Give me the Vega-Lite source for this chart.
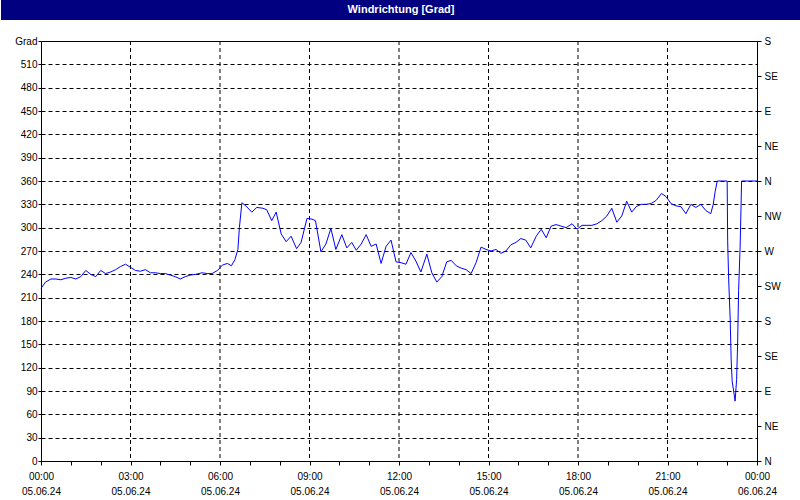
{
  "$schema": "https://vega.github.io/schema/vega-lite/v6.json",
  "padding": 0,
  "spacing": 15,
  "background": "white",
  "config": {
    "font": "Liberation Sans",
    "axis": {"labelFont": "Liberation Sans", "labelFontSize": 10, "labelColor": "black", "domainColor": "black", "tickColor": "black"}
  },
  "vconcat": [
    {
      "width": 716,
      "height": 20,
      "view": {"stroke": null},
      "data": {"values": [{"title": "Windrichtung [Grad]", "a": 0, "b": 1, "pos": 0.5}]},
      "encoding": {
        "x": {"field": "a", "type": "quantitative", "scale": {"domain": [0, 1], "range": [-40, 760]}, "axis": null}
      },
      "layer": [
        {
          "mark": {"type": "rect", "color": "#000080"},
          "encoding": {"x2": {"field": "b"}}
        },
        {
          "mark": {"type": "text", "color": "white", "fontWeight": "bold", "fontSize": 11, "font": "Liberation Sans", "align": "center", "baseline": "middle"},
          "encoding": {
            "text": {"field": "title"},
            "x": {"field": "pos", "type": "quantitative", "axis": null},
            "y": {"field": "pos", "type": "quantitative", "scale": {"domain": [0, 1]}, "axis": null}
          }
        }
      ]
    },
    {
      "width": 716,
      "height": 420,
      "view": {"stroke": "black", "strokeWidth": 1},
      "encoding": {
        "x": {
          "field": "t",
          "type": "temporal",
          "scale": {"domain": [{"year": 2024, "month": 6, "date": 5, "hours": 0}, {"year": 2024, "month": 6, "date": 6, "hours": 0}]},
          "axis": {
            "title": null,
            "values": [
              {"year": 2024, "month": 6, "date": 5, "hours": 0},
              {"year": 2024, "month": 6, "date": 5, "hours": 1},
              {"year": 2024, "month": 6, "date": 5, "hours": 2},
              {"year": 2024, "month": 6, "date": 5, "hours": 3},
              {"year": 2024, "month": 6, "date": 5, "hours": 4},
              {"year": 2024, "month": 6, "date": 5, "hours": 5},
              {"year": 2024, "month": 6, "date": 5, "hours": 6},
              {"year": 2024, "month": 6, "date": 5, "hours": 7},
              {"year": 2024, "month": 6, "date": 5, "hours": 8},
              {"year": 2024, "month": 6, "date": 5, "hours": 9},
              {"year": 2024, "month": 6, "date": 5, "hours": 10},
              {"year": 2024, "month": 6, "date": 5, "hours": 11},
              {"year": 2024, "month": 6, "date": 5, "hours": 12},
              {"year": 2024, "month": 6, "date": 5, "hours": 13},
              {"year": 2024, "month": 6, "date": 5, "hours": 14},
              {"year": 2024, "month": 6, "date": 5, "hours": 15},
              {"year": 2024, "month": 6, "date": 5, "hours": 16},
              {"year": 2024, "month": 6, "date": 5, "hours": 17},
              {"year": 2024, "month": 6, "date": 5, "hours": 18},
              {"year": 2024, "month": 6, "date": 5, "hours": 19},
              {"year": 2024, "month": 6, "date": 5, "hours": 20},
              {"year": 2024, "month": 6, "date": 5, "hours": 21},
              {"year": 2024, "month": 6, "date": 5, "hours": 22},
              {"year": 2024, "month": 6, "date": 5, "hours": 23},
              {"year": 2024, "month": 6, "date": 6, "hours": 0}
            ],
            "grid": false,
            "tickSize": 4,
            "labelPadding": 6,
            "labelLineHeight": 15,
            "labelOverlap": false,
            "labelFlush": false,
            "labelBound": false,
            "labelExpr": "hours(datum.value) % 3 == 0 ? [timeFormat(datum.value, '%H:%M'), timeFormat(datum.value, '%d.%m.%y')] : ''"
          }
        }
      },
      "layer": [
        {
          "data": {"values": [
            {"t": "2024-06-05T03:00:00"},
            {"t": "2024-06-05T06:00:00"},
            {"t": "2024-06-05T09:00:00"},
            {"t": "2024-06-05T12:00:00"},
            {"t": "2024-06-05T15:00:00"},
            {"t": "2024-06-05T18:00:00"},
            {"t": "2024-06-05T21:00:00"}
          ]},
          "mark": {"type": "rule", "color": "black", "strokeWidth": 1, "strokeDash": [4, 3]},
          "encoding": {}
        },
        {
          "data": {"values": [
            {"t": "2024-06-05T00:00:00", "v": 222},
            {"t": "2024-06-05T00:09:00", "v": 230},
            {"t": "2024-06-05T00:20:00", "v": 234},
            {"t": "2024-06-05T00:30:00", "v": 234},
            {"t": "2024-06-05T00:40:00", "v": 233},
            {"t": "2024-06-05T00:50:00", "v": 235},
            {"t": "2024-06-05T01:00:00", "v": 236},
            {"t": "2024-06-05T01:10:00", "v": 234},
            {"t": "2024-06-05T01:20:00", "v": 237},
            {"t": "2024-06-05T01:30:00", "v": 245},
            {"t": "2024-06-05T01:40:00", "v": 240},
            {"t": "2024-06-05T01:50:00", "v": 237},
            {"t": "2024-06-05T02:00:00", "v": 245},
            {"t": "2024-06-05T02:10:00", "v": 241},
            {"t": "2024-06-05T02:20:00", "v": 243},
            {"t": "2024-06-05T02:30:00", "v": 246},
            {"t": "2024-06-05T02:40:00", "v": 250},
            {"t": "2024-06-05T02:50:00", "v": 253},
            {"t": "2024-06-05T03:00:00", "v": 249},
            {"t": "2024-06-05T03:10:00", "v": 245},
            {"t": "2024-06-05T03:20:00", "v": 244},
            {"t": "2024-06-05T03:30:00", "v": 246},
            {"t": "2024-06-05T03:40:00", "v": 242},
            {"t": "2024-06-05T03:50:00", "v": 242},
            {"t": "2024-06-05T04:00:00", "v": 241},
            {"t": "2024-06-05T04:10:00", "v": 241},
            {"t": "2024-06-05T04:20:00", "v": 239},
            {"t": "2024-06-05T04:30:00", "v": 237},
            {"t": "2024-06-05T04:40:00", "v": 234},
            {"t": "2024-06-05T04:50:00", "v": 237},
            {"t": "2024-06-05T05:00:00", "v": 239},
            {"t": "2024-06-05T05:11:00", "v": 240},
            {"t": "2024-06-05T05:24:00", "v": 242},
            {"t": "2024-06-05T05:34:00", "v": 241},
            {"t": "2024-06-05T05:44:00", "v": 241},
            {"t": "2024-06-05T05:55:00", "v": 245},
            {"t": "2024-06-05T06:05:00", "v": 252},
            {"t": "2024-06-05T06:15:00", "v": 254},
            {"t": "2024-06-05T06:23:00", "v": 251},
            {"t": "2024-06-05T06:30:00", "v": 259},
            {"t": "2024-06-05T06:36:00", "v": 272},
            {"t": "2024-06-05T06:39:00", "v": 300},
            {"t": "2024-06-05T06:44:00", "v": 332},
            {"t": "2024-06-05T06:52:00", "v": 328},
            {"t": "2024-06-05T07:04:00", "v": 320},
            {"t": "2024-06-05T07:14:00", "v": 326},
            {"t": "2024-06-05T07:26:00", "v": 325},
            {"t": "2024-06-05T07:34:00", "v": 323},
            {"t": "2024-06-05T07:44:00", "v": 309},
            {"t": "2024-06-05T07:53:00", "v": 320},
            {"t": "2024-06-05T08:03:00", "v": 292},
            {"t": "2024-06-05T08:13:00", "v": 282},
            {"t": "2024-06-05T08:23:00", "v": 289},
            {"t": "2024-06-05T08:34:00", "v": 273},
            {"t": "2024-06-05T08:43:00", "v": 281},
            {"t": "2024-06-05T08:55:00", "v": 312},
            {"t": "2024-06-05T09:05:00", "v": 311},
            {"t": "2024-06-05T09:12:00", "v": 309},
            {"t": "2024-06-05T09:23:00", "v": 269},
            {"t": "2024-06-05T09:33:00", "v": 279},
            {"t": "2024-06-05T09:43:00", "v": 299},
            {"t": "2024-06-05T09:53:00", "v": 272},
            {"t": "2024-06-05T10:05:00", "v": 291},
            {"t": "2024-06-05T10:15:00", "v": 274},
            {"t": "2024-06-05T10:25:00", "v": 281},
            {"t": "2024-06-05T10:34:00", "v": 271},
            {"t": "2024-06-05T10:44:00", "v": 279},
            {"t": "2024-06-05T10:54:00", "v": 291},
            {"t": "2024-06-05T11:04:00", "v": 276},
            {"t": "2024-06-05T11:14:00", "v": 279},
            {"t": "2024-06-05T11:24:00", "v": 254},
            {"t": "2024-06-05T11:34:00", "v": 276},
            {"t": "2024-06-05T11:44:00", "v": 284},
            {"t": "2024-06-05T11:54:00", "v": 256},
            {"t": "2024-06-05T12:04:00", "v": 255},
            {"t": "2024-06-05T12:14:00", "v": 253},
            {"t": "2024-06-05T12:24:00", "v": 268},
            {"t": "2024-06-05T12:34:00", "v": 257},
            {"t": "2024-06-05T12:44:00", "v": 243},
            {"t": "2024-06-05T12:56:00", "v": 266},
            {"t": "2024-06-05T13:06:00", "v": 242},
            {"t": "2024-06-05T13:16:00", "v": 230},
            {"t": "2024-06-05T13:26:00", "v": 237},
            {"t": "2024-06-05T13:36:00", "v": 256},
            {"t": "2024-06-05T13:45:00", "v": 258},
            {"t": "2024-06-05T13:55:00", "v": 251},
            {"t": "2024-06-05T14:05:00", "v": 248},
            {"t": "2024-06-05T14:15:00", "v": 246},
            {"t": "2024-06-05T14:25:00", "v": 241},
            {"t": "2024-06-05T14:35:00", "v": 255},
            {"t": "2024-06-05T14:45:00", "v": 275},
            {"t": "2024-06-05T14:55:00", "v": 272},
            {"t": "2024-06-05T15:05:00", "v": 270},
            {"t": "2024-06-05T15:15:00", "v": 272},
            {"t": "2024-06-05T15:25:00", "v": 267},
            {"t": "2024-06-05T15:35:00", "v": 270},
            {"t": "2024-06-05T15:45:00", "v": 278},
            {"t": "2024-06-05T15:55:00", "v": 281},
            {"t": "2024-06-05T16:05:00", "v": 286},
            {"t": "2024-06-05T16:15:00", "v": 284},
            {"t": "2024-06-05T16:25:00", "v": 274},
            {"t": "2024-06-05T16:36:00", "v": 289},
            {"t": "2024-06-05T16:46:00", "v": 298},
            {"t": "2024-06-05T16:56:00", "v": 287},
            {"t": "2024-06-05T17:06:00", "v": 302},
            {"t": "2024-06-05T17:16:00", "v": 304},
            {"t": "2024-06-05T17:26:00", "v": 302},
            {"t": "2024-06-05T17:36:00", "v": 300},
            {"t": "2024-06-05T17:48:00", "v": 305},
            {"t": "2024-06-05T17:58:00", "v": 298},
            {"t": "2024-06-05T18:08:00", "v": 303},
            {"t": "2024-06-05T18:18:00", "v": 303},
            {"t": "2024-06-05T18:28:00", "v": 303},
            {"t": "2024-06-05T18:38:00", "v": 305},
            {"t": "2024-06-05T18:48:00", "v": 309},
            {"t": "2024-06-05T18:58:00", "v": 315},
            {"t": "2024-06-05T19:08:00", "v": 325},
            {"t": "2024-06-05T19:18:00", "v": 307},
            {"t": "2024-06-05T19:28:00", "v": 315},
            {"t": "2024-06-05T19:38:00", "v": 334},
            {"t": "2024-06-05T19:48:00", "v": 320},
            {"t": "2024-06-05T19:57:00", "v": 327},
            {"t": "2024-06-05T20:07:00", "v": 330},
            {"t": "2024-06-05T20:17:00", "v": 330},
            {"t": "2024-06-05T20:27:00", "v": 331},
            {"t": "2024-06-05T20:37:00", "v": 335},
            {"t": "2024-06-05T20:48:00", "v": 344},
            {"t": "2024-06-05T20:57:00", "v": 340},
            {"t": "2024-06-05T21:07:00", "v": 331},
            {"t": "2024-06-05T21:17:00", "v": 328},
            {"t": "2024-06-05T21:27:00", "v": 327},
            {"t": "2024-06-05T21:37:00", "v": 318},
            {"t": "2024-06-05T21:47:00", "v": 330},
            {"t": "2024-06-05T21:57:00", "v": 326},
            {"t": "2024-06-05T22:07:00", "v": 330},
            {"t": "2024-06-05T22:17:00", "v": 322},
            {"t": "2024-06-05T22:27:00", "v": 318},
            {"t": "2024-06-05T22:32:00", "v": 330},
            {"t": "2024-06-05T22:36:00", "v": 347},
            {"t": "2024-06-05T22:40:00", "v": 360},
            {"t": "2024-06-05T23:00:00", "v": 360},
            {"t": "2024-06-05T23:01:00", "v": 283},
            {"t": "2024-06-05T23:03:00", "v": 234},
            {"t": "2024-06-05T23:06:00", "v": 184},
            {"t": "2024-06-05T23:08:00", "v": 131},
            {"t": "2024-06-05T23:10:00", "v": 103},
            {"t": "2024-06-05T23:13:00", "v": 90},
            {"t": "2024-06-05T23:16:00", "v": 77},
            {"t": "2024-06-05T23:19:00", "v": 105},
            {"t": "2024-06-05T23:21:00", "v": 150},
            {"t": "2024-06-05T23:23:00", "v": 219},
            {"t": "2024-06-05T23:26:00", "v": 274},
            {"t": "2024-06-05T23:28:00", "v": 330},
            {"t": "2024-06-05T23:29:00", "v": 360},
            {"t": "2024-06-06T00:00:00", "v": 360}
          ]},
          "layer": [
            {
              "mark": {"type": "line", "color": "#0000ff", "strokeWidth": 1},
              "encoding": {
                "y": {
                  "field": "v",
                  "type": "quantitative",
                  "scale": {"domain": [0, 540], "nice": false},
                  "axis": {
                    "title": null,
                    "values": [0, 30, 60, 90, 120, 150, 180, 210, 240, 270, 300, 330, 360, 390, 420, 450, 480, 510, 540],
                    "grid": true,
                    "gridColor": "black",
                    "gridDash": [4, 3],
                    "tickSize": 3,
                    "labelPadding": 1,
                    "labelFlush": false,
                    "labelOverlap": false,
                    "labelExpr": "datum.value == 540 ? 'Grad' : datum.label",
                    "minExtent": 40,
                    "maxExtent": 40
                  }
                }
              }
            },
            {
              "mark": {"type": "line", "opacity": 0},
              "encoding": {
                "y": {
                  "field": "v",
                  "type": "quantitative",
                  "axis": {
                    "orient": "right",
                    "title": null,
                    "values": [0, 45, 90, 135, 180, 225, 270, 315, 360, 405, 450, 495, 540],
                    "grid": false,
                    "tickSize": 4,
                    "labelPadding": 3,
                    "labelFlush": false,
                    "labelOverlap": false,
                    "labelExpr": "['N','NE','E','SE','S','SW','W','NW'][(datum.value / 45) % 8]",
                    "minExtent": 44,
                    "maxExtent": 44
                  }
                }
              }
            }
          ],
          "resolve": {"axis": {"y": "independent"}}
        }
      ],
      "resolve": {"axis": {"y": "independent"}}
    }
  ]
}
